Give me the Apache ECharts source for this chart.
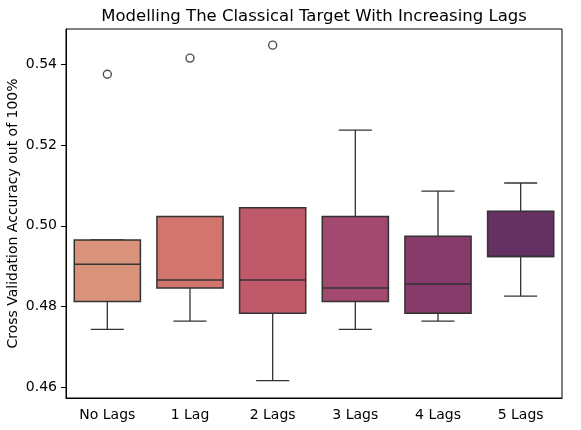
<!DOCTYPE html>
<html>
<head>
<meta charset="utf-8">
<script src="https://cdn.jsdelivr.net/npm/echarts@6/dist/echarts.min.js"></script>
<style>
  html, body { margin: 0; padding: 0; background: #fff; }
  #wrap { width: 581px; height: 430px; }
</style>
</head>
<body>
<div id="wrap"></div>
<script>
var categories = ['No Lags', '1 Lag', '2 Lags', '3 Lags', '4 Lags', '5 Lags'];
var lowWhisker = [0.4744, 0.4764, 0.4617, 0.4744, 0.4764, 0.4826];
var q1 = [0.4813, 0.4846, 0.4784, 0.4813, 0.4784, 0.4924];
var median = [0.4905, 0.4866, 0.4866, 0.4846, 0.4856, 0.4924];
var q3 = [0.4965, 0.5023, 0.5045, 0.5023, 0.4974, 0.5036];
var highWhisker = [0.4965, 0.5023, 0.5045, 0.5237, 0.5086, 0.5106];
var outliers = [[0, 0.5375], [1, 0.5415], [2, 0.5447]];
var colors = ['#d9937a', '#d2756c', '#c05a6a', '#a3486e', '#863b6b', '#653162'];

var boxData = [];
categories.forEach(function(c, i) {
    boxData.push([i, lowWhisker[i], q1[i], median[i], q3[i], highWhisker[i]]);
});

var lineColor = '#333333';

function renderBox(params, api) {
    var i = api.value(0);
    var band = api.size([1, 0])[0];
    var half = band * 0.8 / 2;
    var cap = band * 0.4 / 2;
    var pLow = api.coord([i, api.value(1)]);
    var pQ1 = api.coord([i, api.value(2)]);
    var pMed = api.coord([i, api.value(3)]);
    var pQ3 = api.coord([i, api.value(4)]);
    var pHigh = api.coord([i, api.value(5)]);
    var x = pQ1[0];
    var lineStyle = { stroke: lineColor, lineWidth: 1.3 };
    return {
        type: 'group',
        children: [
            { type: 'line', shape: { x1: x, y1: pQ1[1], x2: x, y2: pLow[1] }, style: lineStyle },
            { type: 'line', shape: { x1: x, y1: pQ3[1], x2: x, y2: pHigh[1] }, style: lineStyle },
            { type: 'line', shape: { x1: x - cap, y1: pLow[1], x2: x + cap, y2: pLow[1] }, style: lineStyle },
            { type: 'line', shape: { x1: x - cap, y1: pHigh[1], x2: x + cap, y2: pHigh[1] }, style: lineStyle },
            {
                type: 'rect',
                shape: { x: x - half, y: pQ3[1], width: half * 2, height: pQ1[1] - pQ3[1] },
                style: { fill: colors[i], stroke: lineColor, lineWidth: 1.5 }
            },
            { type: 'line', shape: { x1: x - half, y1: pMed[1], x2: x + half, y2: pMed[1] }, style: { stroke: lineColor, lineWidth: 1.5 } }
        ]
    };
}

var myChart = echarts.init(document.getElementById('wrap'));
var option = {
    animation: false,
    title: {
        text: 'Modelling The Classical Target With Increasing Lags',
        left: 309,
        textAlign: 'center',
        top: 3,
        textStyle: { fontFamily: 'DejaVu Sans', fontSize: 16.5, fontWeight: 'normal', color: '#000' }
    },
    grid: {
        left: 66, right: 19, top: 29, bottom: 32,
        outerBoundsMode: 'none',
        containLabel: false,
        show: true, borderColor: '#000', borderWidth: 1
    },
    xAxis: {
        type: 'category',
        data: categories,
        boundaryGap: true,
        axisLine: { lineStyle: { color: '#000' } },
        axisTick: { alignWithLabel: true, length: 5, lineStyle: { color: '#000' } },
        axisLabel: { margin: 10, fontFamily: 'DejaVu Sans', fontSize: 14, color: '#000' },
        splitLine: { show: false }
    },
    yAxis: {
        type: 'value',
        min: 0.4574,
        max: 0.5487,
        splitNumber: 5,
        name: 'Cross Validation Accuracy out of 100%',
        nameLocation: 'middle',
        nameGap: 46,
        nameMoveOverlap: false,
        nameTextStyle: { fontFamily: 'DejaVu Sans', fontSize: 14, color: '#000' },
        axisLine: { show: true, lineStyle: { color: '#000' } },
        axisTick: { show: true, length: 5, lineStyle: { color: '#000' } },
        axisLabel: {
            margin: 9, fontFamily: 'DejaVu Sans', fontSize: 14, color: '#000',
            showMinLabel: false, showMaxLabel: false,
            formatter: function(v) { return v.toFixed(2); }
        },
        splitLine: { show: false }
    },
    series: [
        {
            type: 'custom',
            renderItem: renderBox,
            encode: { x: 0, y: [1, 2, 3, 4, 5] },
            data: boxData,
            z: 2
        },
        {
            type: 'scatter',
            data: outliers,
            symbol: 'circle',
            symbolSize: 8,
            itemStyle: { color: 'rgba(255,255,255,0)', borderColor: '#222', borderWidth: 1.4 },
            z: 3
        }
    ]
};
myChart.setOption(option);
</script>
</body>
</html>
